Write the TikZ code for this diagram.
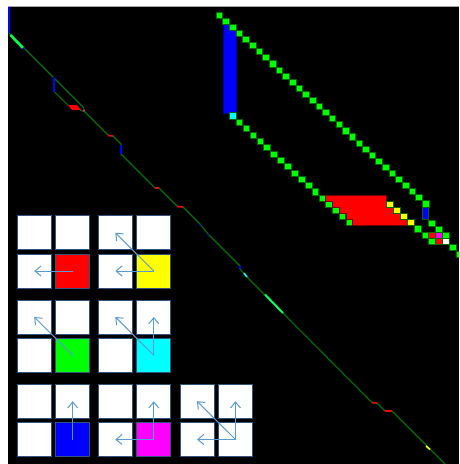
\documentclass[tikz,border=0pt]{standalone}
\usetikzlibrary{arrows.meta}
\definecolor{matchg}{RGB}{0,255,0}
\definecolor{diagg}{RGB}{0,115,0}
\definecolor{framebl}{RGB}{46,84,130}
\definecolor{arrbl}{RGB}{91,155,213}
\definecolor{cyanc}{RGB}{0,255,255}
\definecolor{magentac}{RGB}{255,0,255}
\definecolor{yellowc}{RGB}{255,255,0}
\newcommand{\cellpanel}[4]{\node[lcell] (#1a) at (#2,#3) {}; \node[lcell] (#1b) at (#2+38.5,#3) {};
 \node[lcell] (#1c) at (#2,#3+38.3) {}; \node[lcell,fill=#4] (#1d) at (#2+38.5,#3+38.3) {};}
\begin{document}
\begin{tikzpicture}[x=1pt,y=-1pt,
  lcell/.style={draw=framebl,fill=white,line width=1pt,minimum size=34pt,inner sep=0pt},
  ptr/.style={draw=arrbl,line width=1pt,-{Straight Barb[length=6pt,width=10pt]}},
  mcell/.style={fill=matchg,draw=matchg!40!black,line width=.5pt},
  trace/.style={draw=diagg,line width=1.1pt}]
\useasboundingbox (0,0) rectangle (459,464);
\fill[white] (0,0) rectangle (459,464); \fill[black] (8,6.8) rectangle (459,464);
\draw[gray!70,line width=1pt] (8,6.3) -- (459,6.3);
\begin{scope}
\clip (8,6.8) rectangle (459,464);
\draw[trace] (9,33) -- (53,77) -- (83,107) -- (85,112); \draw[trace] (54.5,92) -- (68,105); \draw[trace] (80,110) -- (85,112);
\fill[red] (68,105) -- (77,105) -- (81,110) -- (72,110) -- cycle; \fill[magentac] (84,110.5) circle (1.2pt);
\draw[trace] (85,112) -- (108,135) -- (113,136) -- (121,144) -- (121,154) -- (155,188) -- (159,188) -- (177,206) -- (183,207) -- (200,224) -- (208,234) -- (240,266) -- (240,269) -- (247,277) -- (283,313) -- (372,402.5) -- (377,403) -- (385,411) -- (392,411) -- (445,464);
\draw[blue,line width=2pt] (8.8,6.8) -- (8.8,33); \draw[matchg!70!cyanc,line width=2.6pt] (10.5,35) -- (23,48); \fill[blue] (23.5,48.5) circle (1.2pt);
\draw[blue,line width=1.6pt] (54,77) -- (54,92); \draw[blue,line width=1.6pt] (121,145) -- (121,154); \draw[blue,line width=1.6pt] (240,266) -- (240,269);
\draw[red,line width=1.6pt] (108,135.5) -- (113,136); \draw[red,line width=1.6pt] (155,188) -- (159,188); \draw[red,line width=1.6pt] (177,206.5) -- (183,207);
\draw[red,line width=1.6pt] (372,402.5) -- (377,403); \draw[red,line width=1.6pt] (385,411) -- (392,411);
\fill[blue] (200,225) circle (1pt); \fill[blue] (208,234.5) circle (1pt); \draw[cyanc,line width=1.6pt] (244,273) -- (247,277);
\draw[matchg!60!cyanc,line width=2pt] (265,294.5) -- (283,313); \draw[yellowc,line width=1.6pt] (426,446) -- (430,449.5);
\filldraw[fill=blue,draw=blue!60!black,line width=.4pt] (223.3,24) rectangle (236,112.7);
\foreach \i in {0,...,31} \path[mcell] (216+6.655*\i,12+6.087*\i) rectangle ++(6.6,6.1);
\path[mcell,fill=cyanc] (229.3,112.7) rectangle ++(6.7,6.6);
\foreach \j in {0,...,12} \path[mcell] (236+6.92*\j,119.3+6.31*\j) rectangle ++(6.6,6.1);
\foreach \x/\y in {325.7/201,332.3/207,339/213.3,346/219.3,414.7/225.7,421.8/232.3,428.7/238.5,428.7/220,435.3/226.5,442.3/232.3,449.3/244.5,456/251}
  \path[mcell] (\x,\y) rectangle ++(6.6,6.1);
\filldraw[fill=red,draw=red!45!black,line width=.5pt] (325.7,195) -- (386.7,195) -- (386.7,207) -- (393.5,207) -- (393.5,213.3) -- (400.5,213.3) -- (400.5,219.3) -- (407.5,219.3) -- (407.5,225.7)
  -- (352.5,225.7) -- (352.5,219.3) -- (346,219.3) -- (346,213.3) -- (339,213.3) -- (339,207) -- (332.3,207) -- (332.3,201) -- (325.7,201) -- cycle;
\foreach \x/\y in {386.7/201,393.5/207,400.5/213.3,407.5/219.3} \path[mcell,fill=yellowc] (\x,\y) rectangle ++(6.8,6.2);
\path[mcell,fill=blue] (422.3,206.8) rectangle ++(6.3,12.7);
\path[mcell,fill=red] (428.7,232.3) rectangle ++(6.6,6.2); \path[mcell,fill=magentac] (435.3,232.3) rectangle ++(6.8,6.2);
\path[mcell,fill=red] (435.3,238.5) rectangle ++(6.8,6.1); \path[mcell,fill=white] (442.3,238.5) rectangle ++(6.8,6.1);
\end{scope}
\cellpanel{pa}{34.2}{232.7}{red} \cellpanel{pb}{115.3}{232.7}{yellowc}
\cellpanel{pc}{34.2}{317}{matchg} \cellpanel{pd}{115.3}{317}{cyanc}
\cellpanel{pe}{34.2}{401.2}{blue} \cellpanel{pf}{115.3}{401.2}{magentac} \cellpanel{pg}{197}{401.2}{white}
\draw[ptr] (pad.center) -- (pac.center);
\draw[ptr] (pbd.center) -- (pbc.center); \draw[ptr] (pbd.center) -- (pba.center);
\draw[ptr] (pcd.center) -- (pca.center);
\draw[ptr] (pdd.center) -- (pda.center); \draw[ptr] (pdd.center) -- (pdb.center);
\draw[ptr] (ped.center) -- (peb.center);
\draw[ptr] (pfd.center) -- (pfb.center); \draw[ptr] (pfd.center) -- (pfc.center);
\draw[ptr] (pgd.center) -- (pga.center); \draw[ptr] (pgd.center) -- (pgb.center); \draw[ptr] (pgd.center) -- (pgc.center);
\end{tikzpicture}
\end{document}
